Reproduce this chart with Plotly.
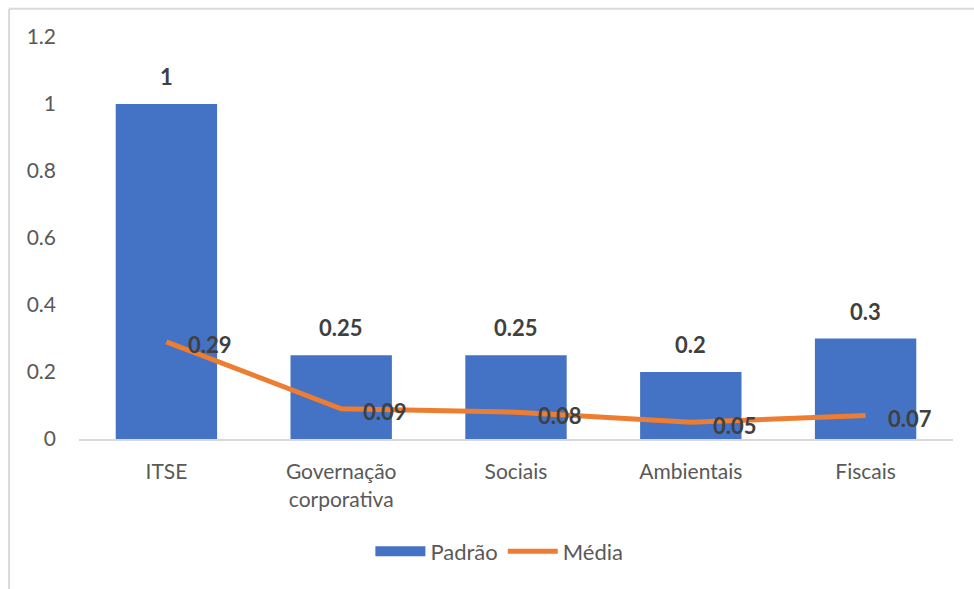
import plotly.graph_objects as go

categories = ["ITSE", "Governação<br>corporativa", "Sociais", "Ambientais", "Fiscais"]
padrao = [1, 0.25, 0.25, 0.2, 0.3]
media = [0.29, 0.09, 0.08, 0.05, 0.07]
padrao_labels = ["1", "0.25", "0.25", "0.2", "0.3"]
media_labels = ["0.29", "0.09", "0.08", "0.05", "0.07"]
y_ticks = [0, 0.2, 0.4, 0.6, 0.8, 1, 1.2]
y_ticklabels = ["0", "0.2", "0.4", "0.6", "0.8", "1", "1.2"]

BLUE = "#4472C4"
ORANGE = "#ED7D31"
FONT = "Lato"

fig = go.Figure()
fig.add_trace(go.Bar(x=categories, y=padrao, name="Padrão", showlegend=False,
                     legendgroup="p", marker=dict(color=BLUE, line=dict(width=0))))
# legend entry drawn as a wide swatch like the original
fig.add_trace(go.Scatter(x=[None], y=[None], name="Padrão", mode="lines", legendgroup="p",
                         line=dict(color=BLUE, width=13)))
fig.add_trace(go.Scatter(x=categories, y=media, name="Média", mode="lines",
                         line=dict(color=ORANGE, width=5)))

annotations = []
for c, v, t in zip(categories, padrao, padrao_labels):
    annotations.append(dict(x=c, y=v, text="<b>%s</b>" % t, showarrow=False, xanchor="center",
                            yanchor="bottom", yshift=12, font=dict(family=FONT, size=22, color="#404040")))
for c, v, t in zip(categories, media, media_labels):
    annotations.append(dict(x=c, y=v, text="<b>%s</b>" % t, showarrow=False, xanchor="left",
                            yanchor="middle", xshift=20, yshift=-3, font=dict(family=FONT, size=22, color="#404040")))

fig.update_layout(
    width=974, height=589,
    margin=dict(l=79, r=21, t=37, b=150),
    paper_bgcolor="white", plot_bgcolor="white",
    font=dict(family=FONT, size=21, color="#595959"),
    bargap=0.42,
    showlegend=True,
    legend=dict(orientation="h", x=0.481, xanchor="center", y=-0.28, yanchor="middle",
                font=dict(family=FONT, size=22, color="#595959"), itemwidth=50),
    annotations=annotations,
    xaxis=dict(showgrid=False, showline=True, linecolor="#D9D9D9", linewidth=2, ticks="",
               ticklabelstandoff=13,
               tickfont=dict(family=FONT, size=21, color="#595959")),
    yaxis=dict(range=[0, 1.2], tickvals=y_ticks, ticktext=y_ticklabels, showgrid=False,
               zeroline=False, showline=False, ticks="", ticklabelstandoff=22,
               tickfont=dict(family=FONT, size=21, color="#595959")),
    shapes=[
        dict(type="line", xref="paper", yref="paper", x0=-0.08, x1=-0.08, y0=1.07, y1=-0.4,
             line=dict(color="#D9D9D9", width=2)),
        dict(type="line", xref="paper", yref="paper", x0=-0.08, x1=1.03, y0=1.07, y1=1.07,
             line=dict(color="#D9D9D9", width=2)),
    ],
)

fig.write_html("out.html", config={"displayModeBar": False},
               post_script="document.body.style.margin='0';document.body.style.overflow='hidden';")
